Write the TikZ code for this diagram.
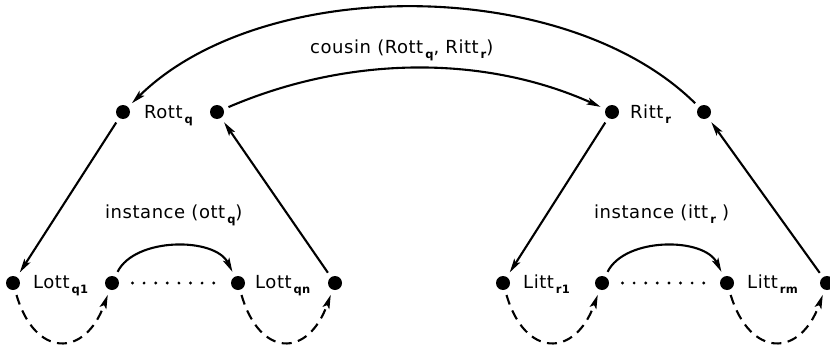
\documentclass[tikz,border=0pt]{standalone}
\usepackage{fontspec}
\setmainfont{DejaVu Sans}[LetterSpace=3]
\usetikzlibrary{arrows.meta}
% lowered bold subscript used in the labels
\newcommand\lowsub[1]{\hspace{2pt}\raisebox{-5.5pt}{\fontsize{11.5}{11.5}\selectfont\bfseries #1}}
\tikzset{
  dotnode/.style={circle, fill=black, inner sep=0pt, minimum size=14pt, outer sep=5.5pt},
  lbl/.style={anchor=base west, inner sep=0pt, font=\fontsize{18}{20}\selectfont},
  link/.style={line width=2.1pt, -{Stealth[length=14pt,width=7pt,inset=3pt]}},
  loopback/.style={link, dash pattern=on 10pt off 6.5pt},
  ellipsis/.style={line width=3.2pt, line cap=round, dash pattern=on 0pt off 11.6pt}
}
\begin{document}
\begin{tikzpicture}[x=1pt, y=-1pt]
\useasboundingbox (0,0) rectangle (830,348);

% upper level
\node[dotnode] (rotL) at (123,112) {};
\node[dotnode] (rotR) at (217,112) {};
\node[dotnode] (ritL) at (612,112) {};
\node[dotnode] (ritR) at (704,112) {};

% lower level, left group
\node[dotnode] (lq1)  at (13,283) {};
\node[dotnode] (lq1b) at (112,283) {};
\node[dotnode] (lqn)  at (238,283) {};
\node[dotnode] (lqnb) at (335,283) {};

% lower level, right group
\node[dotnode] (lr1)  at (503,283) {};
\node[dotnode] (lr1b) at (602,283) {};
\node[dotnode] (lrm)  at (727,283) {};
\node[dotnode] (lrmb) at (827,283) {};

% labels
\node[lbl] (tRott)  at (144,118) {Rott\lowsub{q}};
\node[lbl] (tRitt)  at (630,118) {Ritt\lowsub{r}};
\node[lbl] (tcous)  at (310,53)  {cousin (Rott\lowsub{q}, Ritt\lowsub{r})};
\node[lbl] (tinsq)  at (105,218) {instance (ott\lowsub{q})};
\node[lbl] (tinsr)  at (594,218) {instance (itt\lowsub{r} )};
\node[lbl] (tLq1)   at (33,288)  {Lott\lowsub{q1}};
\node[lbl] (tLqn)   at (255,288) {Lott\lowsub{qn}};
\node[lbl] (tLr1)   at (523,288) {Litt\lowsub{r1}};
\node[lbl] (tLrm)   at (747,288) {Litt\lowsub{rm}};

% cousin arcs
\draw[link] (ritR) .. controls (565,-25) and (262,-25) .. (rotL);
\draw[link] (rotR) .. controls (350,55) and (485,55) .. (ritL);

% instance links
\draw[link] (rotL) -- (lq1);
\draw[link] (lqnb) -- (rotR);
\draw[link] (ritL) -- (lr1);
\draw[link] (lrmb) -- (ritR);

% chains of instances
\draw[link] (lq1b) .. controls (135,237) and (215,237) .. (lqn);
\draw[link] (lr1b) .. controls (625,237) and (704,237) .. (lrm);
\draw[ellipsis, shorten <=8pt, shorten >=9.5pt] (lq1b) -- (lqn);
\draw[ellipsis, shorten <=8pt, shorten >=9.5pt] (lr1b) -- (lrm);

% dashed loops underneath
\draw[loopback] (lq1) .. controls (35,358) and (85,358) .. (lq1b);
\draw[loopback] (lqn) .. controls (260,358) and (308,358) .. (lqnb);
\draw[loopback] (lr1) .. controls (525,358) and (575,358) .. (lr1b);
\draw[loopback] (lrm) .. controls (750,358) and (800,358) .. (lrmb);
\end{tikzpicture}
\end{document}
